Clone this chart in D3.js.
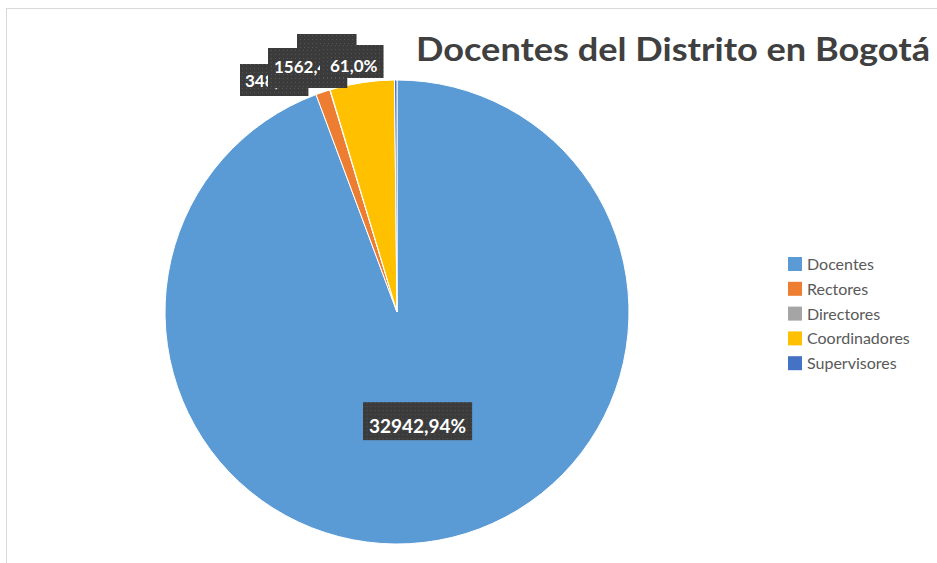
<!DOCTYPE html>
<html>
<head>
<meta charset="utf-8">
<script src="https://cdnjs.cloudflare.com/ajax/libs/d3/7.8.5/d3.min.js"></script>
<style>
  body { margin: 0; background: #fff; }
  svg { display: block; }
  text { font-family: Lato, "Open Sans", sans-serif; }
</style>
</head>
<body>
<svg width="937" height="563"></svg>
<script>
// chart data
var categories = ["Docentes", "Rectores", "Directores", "Coordinadores", "Supervisores"];
var values = [32942, 348, 10, 1562, 61];
var labels = ["32942,94%", "348,1%", "10,0%", "1562,4%", "61,0%"];
var colors = ["#5B9BD5", "#ED7D31", "#A5A5A5", "#FFC000", "#4472C4"];
var title = "Docentes del Distrito en Bogotá";

var svg = d3.select("svg");
var W = 937, H = 563;
var cx = 397, cy = 312, R = 232;

// chart frame
svg.append("rect")
	.attr("x", 6.5).attr("y", 8.5)
	.attr("width", W + 10).attr("height", H + 10)
	.attr("fill", "#fff").attr("stroke", "#d9d9d9");

// dotted texture for label boxes
var pat = svg.append("defs").append("pattern")
	.attr("id", "dots").attr("patternUnits", "userSpaceOnUse")
	.attr("width", 4).attr("height", 4);
pat.append("rect").attr("width", 4).attr("height", 4).attr("fill", "#3b3b3b");
pat.append("rect").attr("x", 1).attr("y", 1).attr("width", 1).attr("height", 1).attr("fill", "#555");

var data = categories.map(function(c, i){
	return { name: c, value: values[i], label: labels[i], color: colors[i] };
});

var pie = d3.pie().sort(null).value(function(d){ return d.value });
var arc = d3.arc().innerRadius(0).outerRadius(R);
var arcs = pie(data);

var g = svg.append("g").attr("transform", "translate(" + cx + "," + cy + ")");
g.selectAll("path.slice").data(arcs).enter().append("path")
	.attr("class", "slice")
	.attr("d", arc)
	.attr("fill", function(d){ return d.data.color })
	.attr("stroke", "#fff").attr("stroke-width", 1);

// dark textured box with the label text; top/h are relative to the baseline
function labelBox(x, y, txt, size, padL, padR, top, h, anchor){
	var grp = svg.append("g").attr("transform", "translate(" + x + "," + y + ")");
	var t = grp.append("text")
		.attr("text-anchor", anchor)
		.attr("font-size", size).attr("font-weight", "bold")
		.attr("fill", "#fff")
		.text(txt);
	var bb = t.node().getBBox();
	grp.insert("rect", "text")
		.attr("x", bb.x - padL).attr("y", top)
		.attr("width", bb.width + padL + padR).attr("height", h)
		.attr("fill", "url(#dots)");
	return grp;
}

// Docentes label inside its slice
var inner = d3.arc().innerRadius(R * 0.5).outerRadius(R * 0.5);
var c0 = inner.centroid(arcs[0]);
labelBox(cx + c0[0], cy + c0[1] + 7, arcs[0].data.label, 19, 6, 6, -31, 38, "middle");

// the small slices: Excel piled their labels on top of each other above the pie
// [text x, baseline, left pad, box top (rel), box height]
var smallPos = {
	1: [245, 87, 5, -23, 32],
	2: [303, 66, 6, -32, 33],
	3: [274, 73, 6, -25, 40],
	4: [330, 72, 10, -27, 33]
};
[1, 2, 3, 4].forEach(function(i){
	var p = smallPos[i];
	labelBox(p[0], p[1], arcs[i].data.label, 17, p[2], 6, p[3], p[4], "start");
});

// title
svg.append("text")
	.attr("x", 416).attr("y", 61)
	.attr("font-size", 33).attr("font-weight", "bold")
	.attr("fill", "#404040")
	.attr("textLength", 514).attr("lengthAdjust", "spacingAndGlyphs")
	.text(title);

// legend
var legend = svg.append("g").attr("transform", "translate(788,257)");
var items = legend.selectAll("g").data(data).enter().append("g")
	.attr("transform", function(d, i){ return "translate(0," + i * 24.8 + ")" });
items.append("rect")
	.attr("width", 14).attr("height", 14)
	.attr("fill", function(d){ return d.color });
items.append("text")
	.attr("x", 19).attr("y", 13)
	.attr("font-family", "'Open Sans', sans-serif")
	.attr("font-size", 16).attr("fill", "#595959")
	.text(function(d){ return d.name });
</script>
</body>
</html>
